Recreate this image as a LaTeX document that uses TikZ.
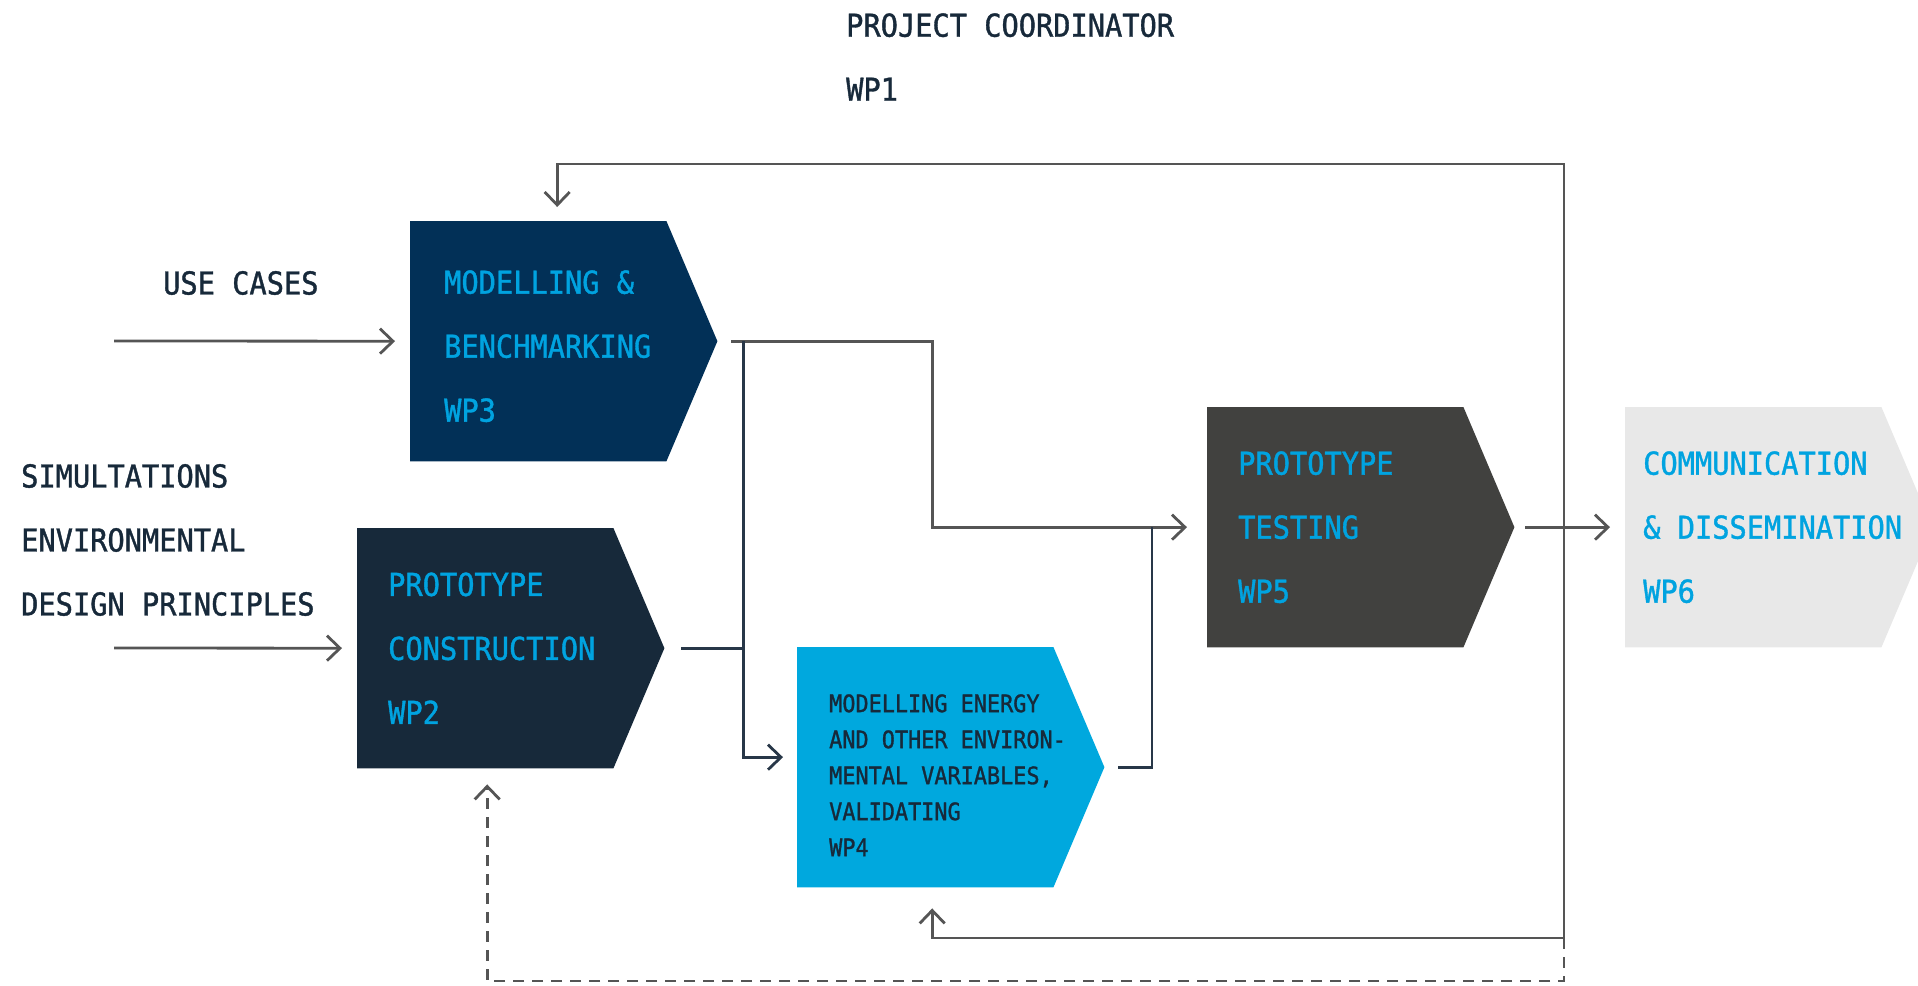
\documentclass[tikz,border=0pt]{standalone}
\usepackage{fontspec}
\usepackage{tikz}
\usetikzlibrary{arrows.meta}
\newfontfamily\wpfont[FakeStretch=0.91,FakeBold=1.2]{DejaVu Sans Mono}

\definecolor{navyA}{RGB}{2,48,87}
\definecolor{navyB}{RGB}{23,41,58}
\definecolor{skyA}{RGB}{0,168,222}
\definecolor{skyT}{RGB}{0,163,224}
\definecolor{greyA}{RGB}{65,65,63}
\definecolor{greyB}{RGB}{232,232,232}
\definecolor{ink}{RGB}{23,41,58}
\definecolor{lnGrey}{RGB}{85,85,85}
\definecolor{lnNavy}{RGB}{40,55,72}

\begin{document}
\begin{tikzpicture}[x=1pt,y=-1pt]
\tikzstyle{every node}=[]
\tikzstyle{box}=[rectangle,minimum width=256pt,minimum height=240pt,inner sep=0pt,anchor=north west]
\tikzstyle{big}=[font=\wpfont\fontsize{31.5}{64}\selectfont,align=left,inner sep=0pt,anchor=west]
\tikzstyle{small}=[font=\wpfont\fontsize{24}{36}\selectfont,align=left,inner sep=0pt,anchor=west]
\tikzstyle{lnA}=[draw=lnGrey,line width=2.8pt]
\tikzstyle{lnB}=[draw=lnNavy,line width=2.8pt]
\tikzstyle{tip}=[-{Straight Barb[length=13pt,width=25pt]}]
\clip (0,0) rectangle (1918,985);

 % work package boxes
 \node[box] (wp3) at (410,221) {};
 \node[box] (wp2) at (357,528) {};
 \node[box] (wp4) at (797,647) {};
 \node[box] (wp5) at (1207,407) {};
 \node[box] (wp6) at (1625,407) {};
 \foreach \b/\c in {wp3/navyA,wp2/navyB,wp4/skyA,wp5/greyA,wp6/greyB}
  \fill[\c] (\b.north west) -- (\b.north east) -- ([xshift=51pt]\b.east)
   -- (\b.south east) -- (\b.south west) -- cycle;

 \node[big,text=skyT] (t3) at ([xshift=34pt,yshift=-5pt]wp3.west) {MODELLING \&\\BENCHMARKING\\WP3};
 \node[big,text=skyT] (t2) at ([xshift=31pt]wp2.west) {PROTOTYPE\\CONSTRUCTION\\WP2};
 \node[small,text=ink] (t4) at ([xshift=32pt,yshift=-8pt]wp4.west)
  {MODELLING ENERGY\\AND OTHER ENVIRON-\\MENTAL VARIABLES,\\VALIDATING\\WP4};
 \node[big,text=skyT] (t5) at ([xshift=31pt]wp5.west) {PROTOTYPE\\TESTING\\WP5};
 \node[big,text=skyT] (t6) at ([xshift=18pt]wp6.west) {COMMUNICATION\\\& DISSEMINATION\\WP6};

 % labels outside the boxes
 \node[big,text=ink] (coord) at (846,57) {PROJECT COORDINATOR\\WP1};
 \node[big,text=ink] (usecases) at (163,283) {USE CASES};
 \node[big,text=ink] (inputs) at (21,540) {SIMULTATIONS\\ENVIRONMENTAL\\DESIGN PRINCIPLES};

 \coordinate (in3) at (114,341);
 \coordinate (in2) at (114,648);
 \coordinate (rail) at (1564,164);
 \coordinate (fb) at (1564,938);

 % inputs and output
 \draw[lnA,tip] (in3) -- ([xshift=-15pt]wp3.west);
 \draw[lnA,tip] (in2) -- ([xshift=-15pt]wp2.west);
 \draw[lnA,tip] ([xshift=62pt]wp5.east) -- ([xshift=-15pt]wp6.west);
 % main flow
 \draw[lnA,tip] ([xshift=65pt]wp3.east) -- ++(201,0) |- ([xshift=-20pt]wp5.west);
 \draw[lnB,tip] ([xshift=77pt]wp3.east) |- ([xshift=-14pt,yshift=10pt]wp4.west);
 \draw[lnB] ([xshift=68pt]wp2.east) -- ++(63,0);
 \draw[lnB] ([xshift=65pt]wp4.east) -| ([xshift=-55pt]wp5.west);
 % feedback
 \draw[lnA,tip] (fb) -- (rail) -| ([xshift=19pt,yshift=14pt]wp3.north);
 \draw[lnA,tip] (fb) -| ([xshift=7pt,yshift=-21pt]wp4.south);
 \draw[lnA,tip,dash pattern=on 11pt off 8pt] (fb) -- ++(0,43) -| ([xshift=2pt,yshift=-16pt]wp2.south);
\end{tikzpicture}
\end{document}
